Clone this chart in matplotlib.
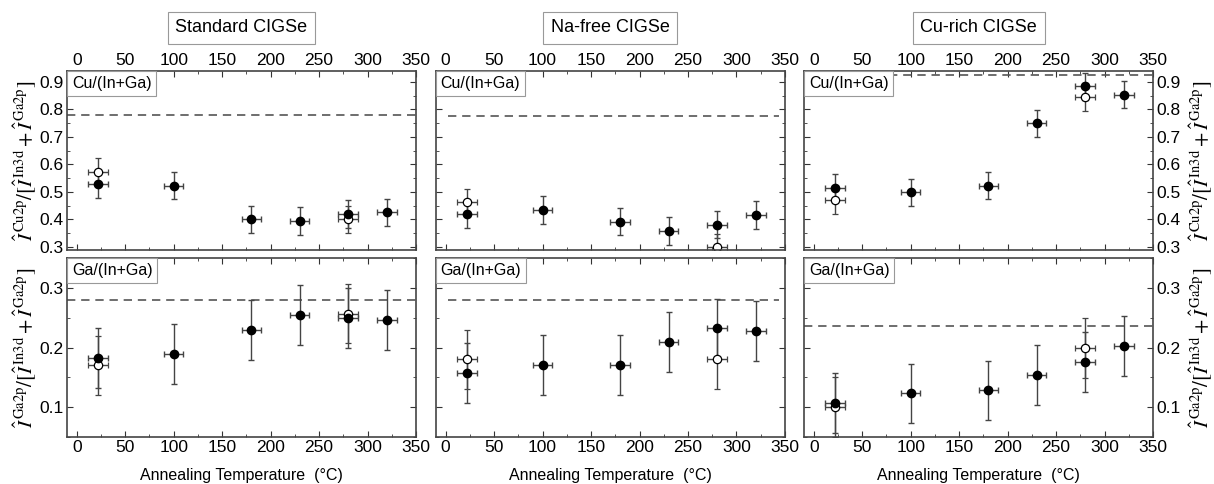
import matplotlib
matplotlib.use('Agg')
import matplotlib.pyplot as plt
from matplotlib.offsetbox import AnchoredText
from matplotlib.ticker import MultipleLocator

plt.rcParams.update({
    "font.family": "Liberation Sans",
    "font.size": 10,
    "mathtext.fontset": "stix",
})

# annealing temperatures (°C)
temps = [22, 100, 180, 230, 280, 320]
temps_open = [22, 280]

# Standard CIGSe
std_cu = [0.528, 0.522, 0.400, 0.393, 0.419, 0.425]
std_cu_open = [0.573, 0.400]
std_ga = [0.182, 0.189, 0.229, 0.254, 0.249, 0.246]
std_ga_open = [0.170, 0.257]

# Na-free CIGSe
naf_cu = [0.419, 0.433, 0.391, 0.357, 0.380, 0.415]
naf_cu_open = [0.461, 0.298]
naf_ga = [0.157, 0.171, 0.171, 0.209, 0.232, 0.228]
naf_ga_open = [0.180, 0.180]

# Cu-rich CIGSe
cur_cu = [0.515, 0.498, 0.522, 0.749, 0.884, 0.854]
cur_cu_open = [0.470, 0.845]
cur_ga = [0.107, 0.123, 0.128, 0.154, 0.176, 0.203]
cur_ga_open = [0.100, 0.199]

# dashed reference (nominal bulk) values
ref_cu = [0.780, 0.777, 0.924]
ref_ga = [0.279, 0.280, 0.236]

titles = ["Standard CIGSe", "Na-free CIGSe", "Cu-rich CIGSe"]
x_err = 10
y_err = 0.05

cu_data = [(std_cu, std_cu_open), (naf_cu, naf_cu_open), (cur_cu, cur_cu_open)]
ga_data = [(std_ga, std_ga_open), (naf_ga, naf_ga_open), (cur_ga, cur_ga_open)]

fig = plt.figure(figsize=(12.14, 4.84), dpi=100)

lefts = [0.0552, 0.3591, 0.6623]
w = 0.2875
h = 0.3698
bottoms = [0.4835, 0.0971]

label_cu = r'$\hat{I}^{\,\mathrm{Cu2p}}/[\hat{I}^{\,\mathrm{In3d}}+\hat{I}^{\,\mathrm{Ga2p}}]$'
label_ga = r'$\hat{I}^{\,\mathrm{Ga2p}}/[\hat{I}^{\,\mathrm{In3d}}+\hat{I}^{\,\mathrm{Ga2p}}]$'

ebar_kw = dict(fmt='o', ms=6, ecolor='#444444', elinewidth=1, capsize=2, capthick=1)


def style_axes(ax, col, row):
    ax.set_xlim(-10, 350)
    ax.xaxis.set_major_locator(MultipleLocator(50))
    ax.xaxis.set_minor_locator(MultipleLocator(25))
    ax.yaxis.set_major_locator(MultipleLocator(0.1))
    ax.yaxis.set_minor_locator(MultipleLocator(0.05))
    ax.tick_params(which='both', direction='in', top=True, bottom=True, left=True, right=True,
                   color='#333333', labelsize=12.5, pad=2.5)
    ax.tick_params(which='major', length=4)
    ax.tick_params(which='minor', length=2.5)
    if row == 0:
        ax.tick_params(labeltop=True, labelbottom=False)
    else:
        ax.tick_params(labeltop=False, labelbottom=True)
    if col == 0:
        ax.tick_params(labelleft=True, labelright=False)
    elif col == 1:
        ax.tick_params(labelleft=False, labelright=False)
    else:
        ax.tick_params(labelleft=False, labelright=True)
    for sp in ax.spines.values():
        sp.set_color('#444444')
        sp.set_linewidth(1.2)


def add_box_label(ax, text):
    at = AnchoredText(text, loc='upper left', frameon=True, borderpad=0, pad=0.3,
                      prop=dict(size=11.5))
    at.patch.set_edgecolor('#999999')
    at.patch.set_linewidth(0.8)
    at.patch.set_boxstyle('square,pad=0')
    at.set_zorder(5)
    ax.add_artist(at)


for col in range(3):
    for row in range(2):
        ax = fig.add_axes([lefts[col], bottoms[row], w, h])
        if row == 0:
            filled, hollow = cu_data[col]
            ref = ref_cu[col]
            ax.set_ylim(0.288, 0.94)
            box = "Cu/(In+Ga)"
        else:
            filled, hollow = ga_data[col]
            ref = ref_ga[col]
            ax.set_ylim(0.05, 0.35)
            box = "Ga/(In+Ga)"

        if col == 1:
            ax.hlines(ref, 2, 344, colors='#555555', linestyles=(0, (5, 3.5)), lw=1.2)
        else:
            ax.axhline(ref, color='#555555', linestyle=(0, (5, 3.5)), lw=1.2)

        ax.errorbar(temps_open, hollow, xerr=x_err, yerr=y_err, mfc='white', mec='black',
                    mew=0.9, **ebar_kw)
        ax.errorbar(temps, filled, xerr=x_err, yerr=y_err, mfc='black', mec='black', **ebar_kw)

        style_axes(ax, col, row)
        add_box_label(ax, box)

        if col == 0:
            ax.set_ylabel(label_cu if row == 0 else label_ga, fontsize=15, labelpad=1)
        elif col == 2:
            ax.yaxis.set_label_position('right')
            ax.set_ylabel(label_cu if row == 0 else label_ga, fontsize=15, labelpad=5)

        if row == 1:
            ax.set_xlabel("Annealing Temperature  (°C)", fontsize=11.5, labelpad=9)
        else:
            ax.set_title(titles[col], fontsize=13, pad=28,
                         bbox=dict(boxstyle='square,pad=0.42', fc='white', ec='#999999', lw=0.8))

fig.savefig('out.png', dpi=100)
